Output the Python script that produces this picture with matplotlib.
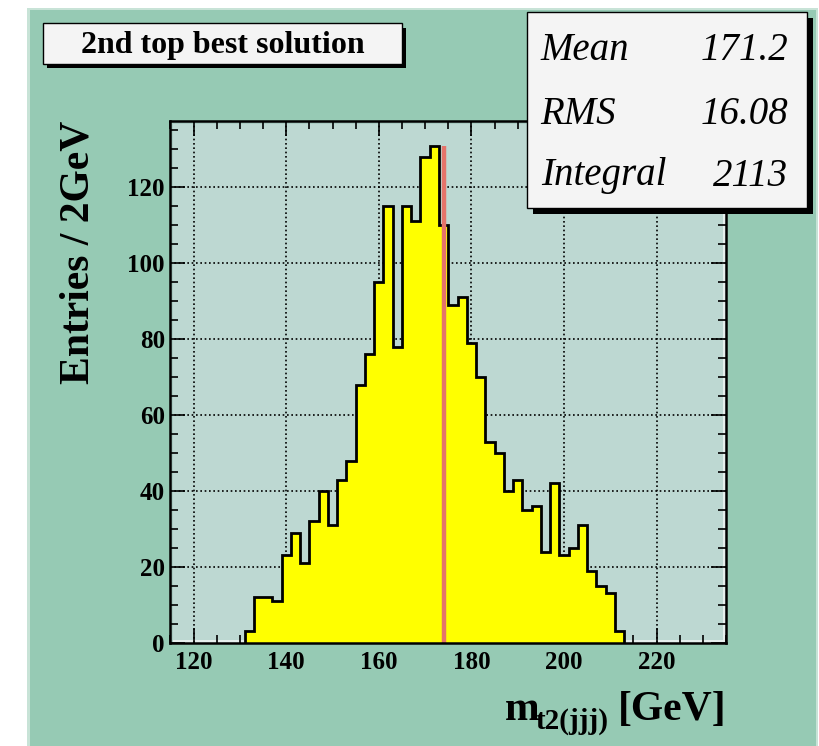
import matplotlib
matplotlib.use("Agg")
import matplotlib.pyplot as plt
from matplotlib.patches import Rectangle
import numpy as np

# histogram of m_t2(jjj), 2 GeV bins starting at 131 GeV
bin_lo = 131
bin_width = 2
counts = [3, 12, 12, 11, 23, 29, 21, 32, 40, 31, 43, 48, 68, 76, 95, 115,
          78, 115, 111, 128, 131, 110, 89, 91, 79, 70, 53, 50, 40, 43, 35,
          36, 24, 42, 23, 25, 31, 19, 15, 13, 3]
top_mass = 174.0
mean_val = "171.2"
rms_val = "16.08"

x_range = (115, 235)
x_major = [120, 140, 160, 180, 200, 220]
y_major = [0, 20, 40, 60, 80, 100, 120]

W, H = 820, 746
canvas_col = "#96CAB4"
frame_col = "#BDD8D2"

plt.rcParams['font.family'] = ['Liberation Serif', 'DejaVu Serif']
plt.rcParams['font.weight'] = 'bold'
plt.rcParams['mathtext.fontset'] = 'custom'
plt.rcParams['mathtext.rm'] = 'Liberation Serif:bold'
plt.rcParams['mathtext.bf'] = 'Liberation Serif:bold'
plt.rcParams['mathtext.it'] = 'Liberation Serif:bold'


def fx(x):
    return x / W


def fy(y):
    return 1 - y / H


def box(x0, y0, x1, y1, **kw):
    # rectangle given in pixel coords (top-left origin)
    return Rectangle((fx(x0), fy(y1)), (x1 - x0) / W, (y1 - y0) / H,
                     transform=fig.transFigure, **kw)


fig = plt.figure(figsize=(W / 100, H / 100), dpi=100, facecolor="white")

# canvas with bevel
fig.patches.append(box(27, 8, 818, 746, facecolor=canvas_col, edgecolor="none", zorder=-3))
fig.patches.append(box(27, 8, 818, 10, facecolor="#C8E3D7", edgecolor="none", zorder=-2))
fig.patches.append(box(27, 8, 30, 746, facecolor="#C8E3D7", edgecolor="none", zorder=-2))
fig.patches.append(box(816, 8, 818, 746, facecolor="#C8E3D7", edgecolor="none", zorder=-2))

ax = fig.add_axes([fx(170.5), fy(642.7), (726 - 170.5) / W, (642.7 - 120.7) / H])
ax.set_facecolor(frame_col)
ax.set_xlim(*x_range)
ax.set_ylim(0, max(counts) * 1.05)

# frame bevel
ax.add_patch(Rectangle((0, 0), 1, 0.006, transform=ax.transAxes,
                       facecolor="#E6EFED", edgecolor="none", zorder=0.6))
ax.add_patch(Rectangle((0.995, 0), 0.005, 1, transform=ax.transAxes,
                       facecolor="#E6EFED", edgecolor="none", zorder=0.6))
ax.add_patch(Rectangle((0, 0), 0.005, 1, transform=ax.transAxes,
                       facecolor="#A9CBC2", edgecolor="none", zorder=0.6))
ax.add_patch(Rectangle((0, 0.994), 1, 0.006, transform=ax.transAxes,
                       facecolor="#A9CBC2", edgecolor="none", zorder=0.6))

# dotted grid under the histogram
for v in x_major:
    ax.axvline(v, color="black", lw=1.2, ls=(0, (1, 1.6)), zorder=1)
for v in y_major[1:]:
    ax.axhline(v, color="black", lw=1.2, ls=(0, (1, 1.6)), zorder=1)

edges = bin_lo + bin_width * np.arange(len(counts) + 1)
ax.stairs(counts, edges, fill=True, color="#FFFF00", zorder=2)
ax.stairs(counts, edges, color="black", lw=2.0, zorder=3)

ax.vlines(top_mass, 0, max(counts), color="#E5736A", lw=3.2, zorder=4)

ax.set_xticks(x_major)
ax.set_yticks(y_major)
ax.set_xticks(np.arange(x_range[0], x_range[1] + 1, 5), minor=True)
ax.set_yticks(np.arange(0, 136, 5), minor=True)
ax.tick_params(which='both', direction='in', top=True, right=True,
               width=1.2, labelsize=18)
ax.tick_params(which='major', length=11)
ax.tick_params(which='minor', length=5.5)
ax.tick_params(axis='x', pad=6)
ax.tick_params(axis='y', pad=4)
for s in ax.spines.values():
    s.set_linewidth(1.8)
    s.set_zorder(5)

# axis titles
fig.text(fx(79), fy(120.7), "Entries / 2GeV", rotation=90, ha="center",
         va="top", fontsize=30, fontweight="bold")
fig.text(fx(727), fy(719.5), "[GeV]", ha="right", va="baseline",
         fontsize=30, fontweight="bold")
fig.text(fx(505), fy(719.5), "m", ha="left", va="baseline",
         fontsize=30, fontweight="bold")
fig.text(fx(536), fy(729), "t2(jjj)", ha="left", va="baseline",
         fontsize=21, fontweight="bold")

# title box
fig.patches.append(box(46.7, 27.5, 406.3, 68, facecolor="black", edgecolor="none", zorder=6))
fig.patches.append(box(42.7, 23.3, 402.3, 64, facecolor="#F4F4F4",
                       edgecolor="black", lw=1.0, zorder=7))
fig.text(fx(222.5), fy(53.5), "2nd top best solution", ha="center",
         va="baseline", fontsize=23, fontweight="bold", zorder=8)

# stats box
fig.patches.append(box(533.3, 18, 812.7, 214, facecolor="black", edgecolor="none", zorder=6))
fig.patches.append(box(527.3, 12.3, 806.7, 208.3, facecolor="#F4F4F4",
                       edgecolor="black", lw=1.0, zorder=7))
stats = [("Mean", mean_val), ("RMS", rms_val), ("Integral", str(sum(counts)))]
baselines = [60.5, 123.8, 185.5]
for (name, val), yb in zip(stats, baselines):
    fig.text(fx(540.7), fy(yb), name, ha="left", va="baseline", fontsize=28,
             fontstyle="italic", fontweight="normal", zorder=8)
    fig.text(fx(788), fy(yb), val, ha="right", va="baseline", fontsize=28,
             fontstyle="italic", fontweight="normal", zorder=8)

fig.savefig("out.png", dpi=100, facecolor="white")
